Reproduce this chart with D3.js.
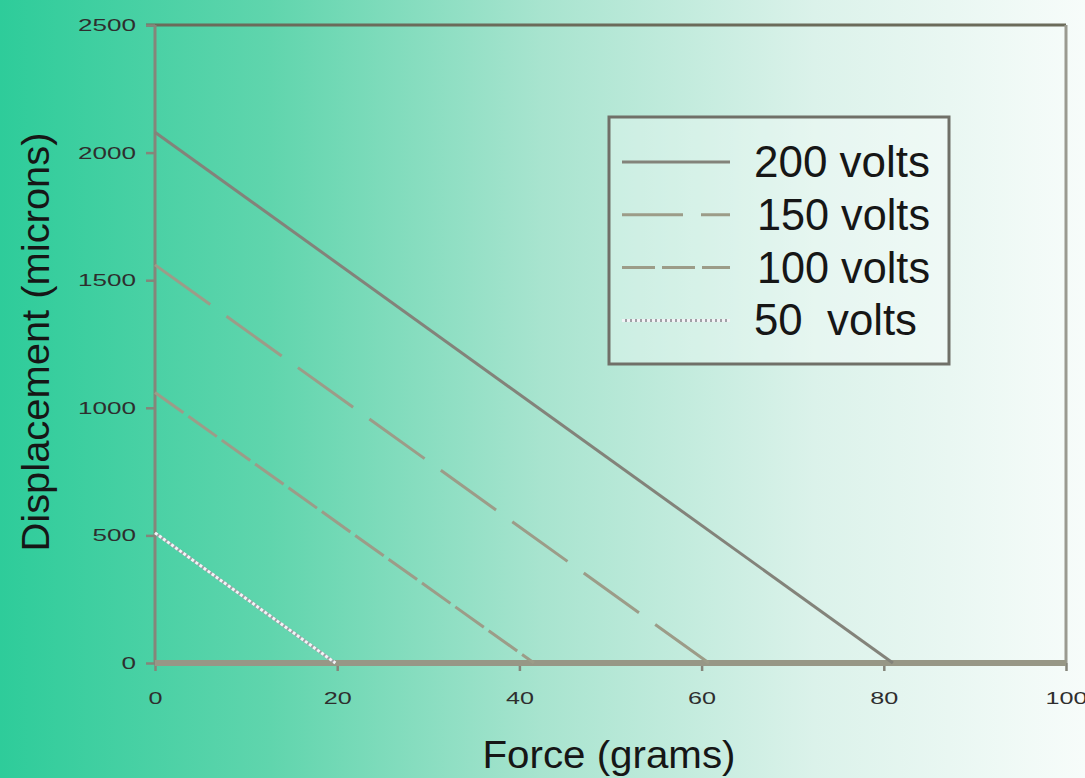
<!DOCTYPE html>
<html lang="en">
<head>
<meta charset="UTF-8">
<title>Displacement vs Force</title>
<style>
  body { margin: 0; overflow: hidden; }
  svg { display: block; font-family: "Liberation Sans", Arial, sans-serif; }
  .axis path { display: none; }
  .axis line { stroke: #85857a; stroke-width: 2.5; }
  .axis text { font-size: 17px; fill: #2e2e2e; }
</style>
</head>
<body>
<div id="chart"></div>
<script src="https://d3js.org/d3.v7.min.js"></script>
<script>
// --- data ---
const seriesNames = ["200 volts", "150 volts", "100 volts", "50  volts"];
const forceValues = [[0, 81], [0, 60.8], [0, 41.6], [0, 19.8]];        // grams
const displacementValues = [[2080, 0], [1560, 0], [1060, 0], [510, 0]]; // microns
const xTicks = [0, 20, 40, 60, 80, 100];
const yTicks = [0, 500, 1000, 1500, 2000, 2500];

const W = 1085, H = 778;
const plot = {left: 155, right: 1066, top: 25, bottom: 663};

const svg = d3.select("#chart").append("svg")
  .attr("width", W).attr("height", H);

// background gradient, green on the left fading to white
const defs = svg.append("defs");
const grad = defs.append("linearGradient").attr("id", "bg")
  .attr("x1", "0").attr("x2", "1").attr("y1", "0").attr("y2", "0");
[["0", "#2ecc9a"], ["0.25", "#60d5ad"], ["0.5", "#a8e4cf"], ["0.75", "#dbf2ea"], ["1", "#f7fcfa"]]
  .forEach(s => grad.append("stop").attr("offset", s[0]).attr("stop-color", s[1]));
svg.append("rect").attr("width", W).attr("height", H).attr("fill", "url(#bg)");

// scales
const x = d3.scaleLinear().domain([0, 100]).range([plot.left, plot.right]);
const y = d3.scaleLinear().domain([0, 2500]).range([plot.bottom, plot.top]);

// frame: top and right
svg.append("line")
  .attr("x1", x(0) - 9).attr("x2", x(100)).attr("y1", y(2500)).attr("y2", y(2500))
  .attr("stroke", "#6b6b5a").attr("stroke-width", 3);
svg.append("line")
  .attr("x1", x(100)).attr("x2", x(100)).attr("y1", y(2500)).attr("y2", y(0))
  .attr("stroke", "#9a9a90").attr("stroke-width", 3);

// y axis
const yAxis = svg.append("g").attr("class", "axis")
  .attr("transform", `translate(${plot.left},0)`)
  .call(d3.axisLeft(y).tickValues(yTicks).tickFormat(d3.format("d")).tickSize(9).tickPadding(10));
yAxis.selectAll("text")
  .attr("textLength", d => String(d).length * 14.5)
  .attr("lengthAdjust", "spacingAndGlyphs");
svg.append("line")
  .attr("x1", x(0)).attr("x2", x(0)).attr("y1", y(2500)).attr("y2", y(0))
  .attr("stroke", "#85857a").attr("stroke-width", 3);

// x axis
const xAxis = svg.append("g").attr("class", "axis")
  .attr("transform", `translate(0,${plot.bottom})`)
  .call(d3.axisBottom(x).tickValues(xTicks).tickFormat(d3.format("d")).tickSize(8).tickPadding(21));
xAxis.selectAll("text")
  .attr("textLength", d => String(d).length * 14)
  .attr("lengthAdjust", "spacingAndGlyphs");
svg.append("line")
  .attr("x1", x(0)).attr("x2", x(100)).attr("y1", y(0)).attr("y2", y(0))
  .attr("stroke", "#979786").attr("stroke-width", 6);

// axis titles
svg.append("text")
  .attr("x", 609).attr("y", 768)
  .attr("text-anchor", "middle")
  .attr("font-size", 38).attr("fill", "#161616")
  .attr("textLength", 253).attr("lengthAdjust", "spacingAndGlyphs")
  .text("Force (grams)");
svg.append("text")
  .attr("transform", "translate(49,342) rotate(-90)")
  .attr("text-anchor", "middle")
  .attr("font-size", 38).attr("fill", "#161616")
  .attr("textLength", 419).attr("lengthAdjust", "spacingAndGlyphs")
  .text("Displacement (microns)");

// line styles per series
const styles = [
  {stroke: "#83837a", dash: null, width: 3},
  {stroke: "#9c9c88", dash: "68,20", width: 3},
  {stroke: "#9c9c88", dash: "35,6", width: 3},
  {stroke: "#f3f3f6", dash: "3,2", width: 3, under: "#a0a0a6"}
];

const line = d3.line().x(d => x(d[0])).y(d => y(d[1]));

seriesNames.forEach((name, i) => {
  const pts = forceValues[i].map((f, j) => [f, displacementValues[i][j]]);
  const st = styles[i];
  if (st.under) {
    svg.append("path").attr("d", line(pts)).attr("fill", "none")
      .attr("stroke", st.under).attr("stroke-width", st.width);
  }
  svg.append("path").attr("d", line(pts)).attr("fill", "none")
    .attr("stroke", st.stroke).attr("stroke-width", st.width)
    .attr("stroke-dasharray", st.dash);
});

// legend
const lg = svg.append("g");
lg.append("rect")
  .attr("x", 609).attr("y", 117).attr("width", 340).attr("height", 247)
  .attr("fill", "rgba(255,255,255,0.3)")
  .attr("stroke", "#707068").attr("stroke-width", 3);

const legendWidths = [176, 173, 173, 163];
seriesNames.forEach((name, i) => {
  const st = styles[i];
  const ly = 162 + i * 52.8;
  if (st.under) {
    lg.append("line").attr("x1", 622).attr("x2", 730).attr("y1", ly).attr("y2", ly)
      .attr("stroke", st.under).attr("stroke-width", st.width);
  }
  lg.append("line").attr("x1", 622).attr("x2", 730).attr("y1", ly).attr("y2", ly)
    .attr("stroke", st.stroke).attr("stroke-width", st.width)
    .attr("stroke-dasharray", i === 1 ? "61,18" : (i === 2 ? "33,7" : st.dash));
  lg.append("text")
    .attr("x", i === 0 || i === 3 ? 754 : 757).attr("y", ly + 15)
    .attr("font-size", 45).attr("fill", "#161616")
    .style("white-space", "pre")
    .attr("textLength", legendWidths[i]).attr("lengthAdjust", "spacingAndGlyphs")
    .text(name);
});
</script>
</body>
</html>
